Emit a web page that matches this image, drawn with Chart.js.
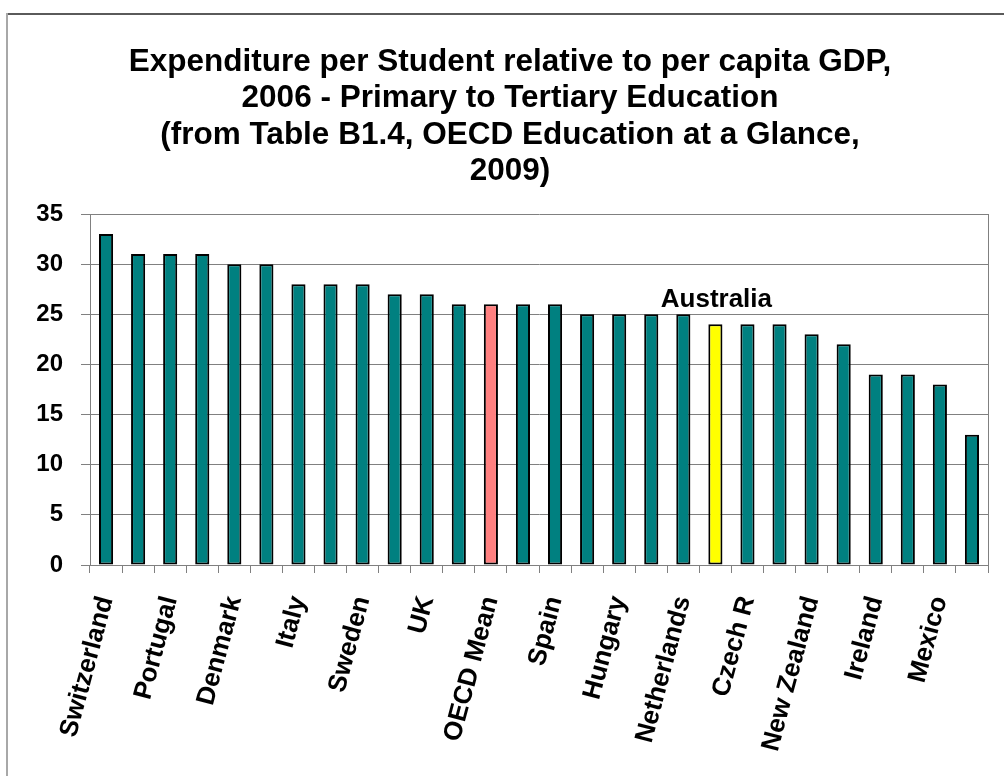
<!DOCTYPE html>
<html><head><meta charset="utf-8">
<script src="https://cdn.jsdelivr.net/npm/chart.js@4/dist/chart.umd.min.js"></script>
<style>html,body{margin:0;padding:0;background:#fff}#wrap{position:relative;width:1004px;height:776px}</style>
</head><body><div id="wrap"><canvas id="c" width="1004" height="776"></canvas></div>
<script>
const categories = ['Switzerland','United States','Portugal','Austria','Denmark','France','Italy','Japan','Sweden','Belgium','UK','Germany','OECD Mean','Korea','Spain','Iceland','Hungary','Finland','Netherlands','Australia','Czech R','Poland','New Zealand','Norway','Ireland','Slovak R','Mexico','Chile'];
const values = [33,31,31,31,30,30,28,28,28,27,27,26,26,26,26,25,25,25,25,24,24,24,23,22,19,19,18,13];
const yTicks = [0,5,10,15,20,25,30,35];
const titleLines = ['Expenditure per Student relative to per capita GDP,','2006 - Primary to Tertiary Education','(from Table B1.4, OECD Education at a Glance,','2009)'];
const highlightLabel = 'Australia';
const meanLabel = 'OECD Mean';

const FONT = '"Liberation Sans", Arial, sans-serif';
const colors = categories.map(c => c === highlightLabel ? '#FFFF00' : (c === meanLabel ? '#FF8080' : '#008080'));

const framePlugin = {
  id: 'frame',
  beforeDraw(chart) {
    const ctx = chart.ctx;
    ctx.save();
    ctx.fillStyle = '#fff';
    ctx.fillRect(0, 0, chart.width, chart.height);
    ctx.fillStyle = '#5a5a5a';
    ctx.fillRect(6, 13, chart.width - 6, 2);
    ctx.fillStyle = '#a8a8a8';
    ctx.fillRect(6, 13, 2, chart.height - 13);
    ctx.restore();
  },
  afterDraw(chart) {
    const a = chart.chartArea, ctx = chart.ctx;
    ctx.save();
    ctx.strokeStyle = '#808080';
    ctx.lineWidth = 1;
    ctx.beginPath();
    ctx.moveTo(Math.round(a.right) + 0.5, a.top);
    ctx.lineTo(Math.round(a.right) + 0.5, a.bottom);
    ctx.stroke();
    ctx.restore();
  }
};

const labelPlugin = {
  id: 'hl',
  afterDatasetsDraw(chart) {
    const i = categories.indexOf(highlightLabel);
    const el = chart.getDatasetMeta(0).data[i];
    const ctx = chart.ctx;
    ctx.save();
    ctx.font = 'bold 26px ' + FONT;
    ctx.fillStyle = '#000';
    ctx.textAlign = 'center';
    ctx.textBaseline = 'alphabetic';
    ctx.fillText(highlightLabel, el.x + 1, el.y - 17);
    ctx.restore();
  }
};

new Chart(document.getElementById('c'), {
  type: 'bar',
  data: {
    labels: categories,
    datasets: [{
      data: values,
      backgroundColor: colors,
      borderColor: '#000',
      borderWidth: 2,
      borderSkipped: false,
      categoryPercentage: 1,
      barPercentage: 0.44
    }]
  },
  options: {
    responsive: false,
    animation: false,
    devicePixelRatio: 1,
    layout: { padding: { left: 16, right: 0, top: 0, bottom: 0 } },
    plugins: {
      legend: { display: false },
      tooltip: { enabled: false },
      title: {
        display: true,
        text: titleLines,
        color: '#000',
        font: { family: FONT, size: 31.5, weight: 'bold', lineHeight: 36.5/31.5 },
        padding: { top: 44, bottom: 24 }
      }
    },
    scales: {
      x: {
        grid: { display: true, drawOnChartArea: false, drawTicks: true, tickLength: 8, color: '#808080', offset: true },
        border: { display: true, color: '#808080', width: 1 },
        ticks: {
          autoSkip: false, maxRotation: 75, minRotation: 75, color: '#000', padding: 20,
          font: { family: FONT, size: 26, weight: 'bold' },
          callback: function(v, i) { return i % 2 === 0 ? categories[i] : ''; }
        },
        afterFit(scale) { scale.height = 211; scale.paddingLeft = 0; scale.paddingRight = 16; }
      },
      y: {
        min: 0, max: 35,
        afterBuildTicks(scale) { scale.ticks = yTicks.map(v => ({ value: v })); },
        grid: { color: '#808080', tickLength: 9, drawTicks: true },
        border: { display: true, color: '#808080', width: 1 },
        ticks: { color: '#000', padding: 18, font: { family: FONT, size: 24, weight: 'bold' } },
        afterFit(scale) { scale.width = 74; }
      }
    }
  },
  plugins: [framePlugin, labelPlugin]
});
</script>
</body></html>
